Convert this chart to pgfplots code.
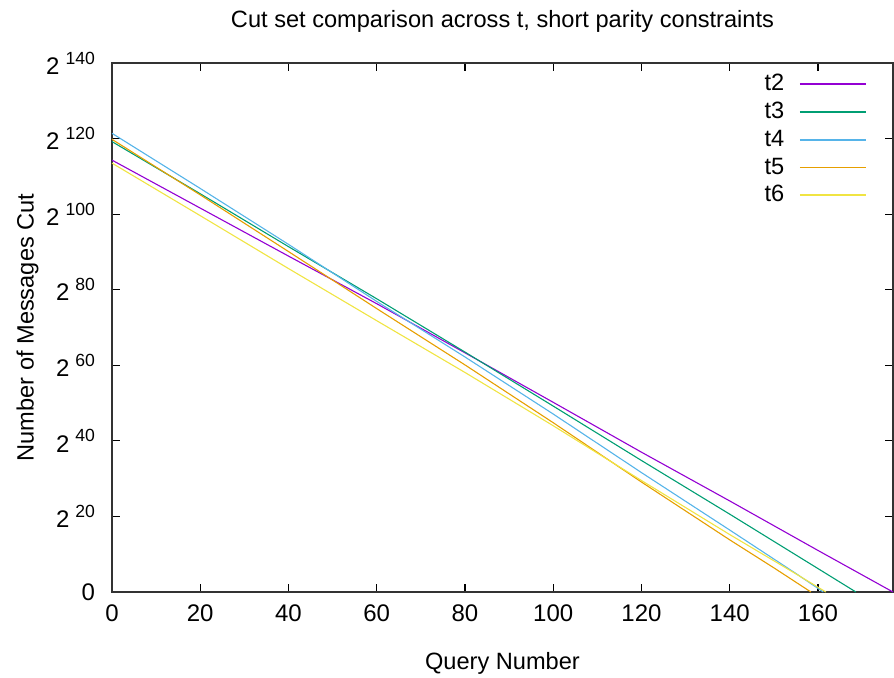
\documentclass[border=0pt]{standalone}
\usepackage{pgfplots}
\pgfplotsset{compat=1.18}
\usepackage{fontspec}
\setmainfont{Liberation Sans}
\definecolor{gpurple}{HTML}{9400D3}
\definecolor{ggreen}{HTML}{009E73}
\definecolor{gblue}{HTML}{56B4E9}
\definecolor{gorange}{HTML}{E69F00}
\definecolor{gyellow}{HTML}{F0E442}
\newcommand{\pw}[1]{2\hspace{3pt}\raisebox{0.42em}{\fontsize{8.8}{10}\selectfont #1}}
\begin{document}
\begin{tikzpicture}
\useasboundingbox (-56pt,-42.5pt) rectangle (391pt,296pt);
\begin{axis}[
  scale only axis,
  width=390.5pt, height=264.5pt,
  xmin=0, xmax=177, ymin=0, ymax=140,
  xtick={0,20,...,160},
  ytick={0,20,...,140},
  yticklabels={0,\pw{20},\pw{40},\pw{60},\pw{80},\pw{100},\pw{120},\pw{140}},
  minor tick num=0,
  tick align=inside,
  major tick length=4pt,
  tick style={black, line width=0.6pt},
  axis line style={black!80, line width=0.7pt},
  ticklabel style={font=\fontsize{12}{14}\selectfont},
  xticklabel style={yshift=-3pt},
  yticklabel style={xshift=-5pt},
  /pgf/number format/assume math mode=true,
  title={Cut set comparison across t, short parity constraints},
  title style={font=\fontsize{11.8}{14}\selectfont, yshift=6pt},
  xlabel={Query Number},
  ylabel={Number of Messages Cut},
  label style={font=\fontsize{11.8}{14}\selectfont},
  xlabel style={yshift=-8.5pt},
  ylabel style={yshift=-3pt},
  legend plot pos=right,
  legend cell align=left,
  legend image post style={xscale=1.93, line width=0.75pt},
  legend style={at={(1,1)}, anchor=north east, xshift=-10pt, yshift=-1.5pt,
    draw=none, fill=none, row sep=0.2pt, column sep=5.5pt, font=\fontsize{11.8}{14}\selectfont},
  every axis plot/.append style={line width=0.55pt},
]
\addplot[gpurple] coordinates {
 (0,114.3) (20,101.6) (40,88.9) (60,76.3) (80,63.3) (100,50.2) (120,37.0) (140,24.1) (160,11.0) (177,0)};
\addlegendentry{t2}
\addplot[ggreen] coordinates {
 (0,119.2) (20,105.4) (40,91.4) (60,77.6) (80,63.5) (100,49.2) (120,34.8) (140,20.6) (160,6.2) (168.6,0)};
\addlegendentry{t3}
\addplot[gblue] coordinates {
 (0,121.4) (20,106.8) (40,92.0) (60,76.9) (80,62.2) (100,47.1) (120,31.6) (140,16.4) (155,4.9) (161.2,0)};
\addlegendentry{t4}
\addplot[gorange] coordinates {
 (0,119.8) (20,105.1) (40,90.1) (60,75.0) (80,60.1) (100,44.8) (120,29.1) (140,13.8) (150,6.4) (158.4,0)};
\addlegendentry{t5}
\addplot[gyellow] coordinates {
 (0,113.5) (20,99.6) (40,85.6) (60,71.8) (80,58.1) (100,44.0) (120,29.5) (140,15.2) (155,4.8) (161.8,0)};
\addlegendentry{t6}
\end{axis}
\end{tikzpicture}
\end{document}
